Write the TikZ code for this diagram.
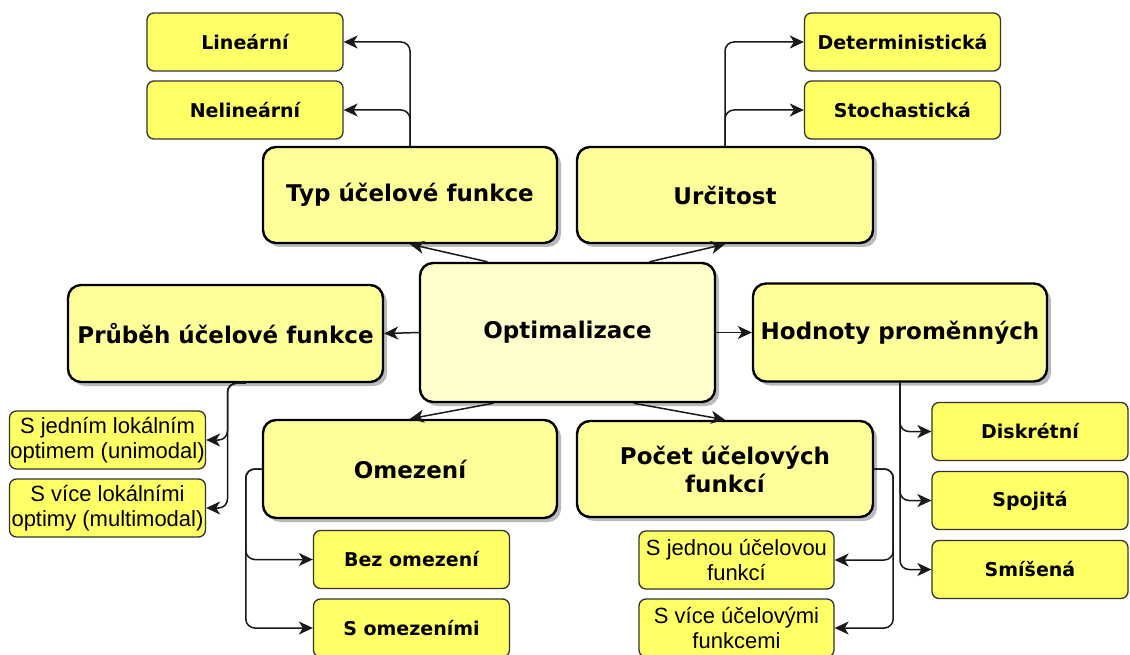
\documentclass[tikz,border=0pt]{standalone}
\usepackage{fontspec}
\setmainfont{DejaVu Sans}
\newfontfamily\notefont{Liberation Sans}
\usepackage{tikz}
\usetikzlibrary{arrows.meta,shadows}
\definecolor{boxyellow}{HTML}{FFFF99}
\definecolor{leafyellow}{HTML}{FFFF66}
\definecolor{rootyellow}{HTML}{FFFFCC}

\begin{document}
\begin{tikzpicture}[x=1pt,y=-1pt,
	main/.style={draw=black, line width=2.4pt, rounded corners=13pt, fill=boxyellow, inner sep=0pt, align=center, font=\bfseries\fontsize{23}{28}\selectfont, drop shadow={shadow xshift=4pt, shadow yshift=-4pt, fill=black!45, opacity=0.6}},
	leaf/.style={draw=black!80, line width=1.3pt, rounded corners=7pt, fill=leafyellow, inner sep=0pt, minimum width=196pt, minimum height=58pt, align=center, font=\bfseries\fontsize{19}{22}\selectfont},
	note/.style={leaf, font=\notefont\fontsize{22}{25}\selectfont},
	conn/.style={-{Stealth[length=14pt,width=13pt,inset=4pt,sharp]}, black!90, line width=1.5pt},
	bent/.style={conn, rounded corners=9pt}]
					
					\clip (0,0) rectangle (1130,655);
					
					\node[main, fill=rootyellow, minimum width=295pt, minimum height=139pt] (opt) at (567.5,332.5) {Optimalizace};
					\node[main, minimum width=294pt, minimum height=96pt] (typ) at (410,195) {Typ účelové funkce};
					\node[main, minimum width=296pt, minimum height=96pt] (urc) at (725,195) {Určitost};
					\node[main, minimum width=315pt, minimum height=97pt] (prub) at (225.5,333.5) {Průběh účelové funkce};
					\node[main, minimum width=294pt, minimum height=98pt] (hod) at (900,332.5) {Hodnoty proměnných};
					\node[main, minimum width=294pt, minimum height=98pt] (omez) at (410,469) {Omezení};
					\node[main, minimum width=296pt, minimum height=96pt] (pocet) at (725,469) {Počet účelových\\funkcí};
					
					\node[leaf] (lin) at (245,42) {Lineární};
					\node[leaf] (nelin) at (245,110) {Nelineární};
					\node[leaf] (det) at (902.5,42) {Deterministická};
					\node[leaf] (stoch) at (902.5,110) {Stochastická};
					\node[leaf] (disk) at (1030,431.5) {Diskrétní};
					\node[leaf] (spoj) at (1030,500.5) {Spojitá};
					\node[leaf] (smis) at (1030,569.5) {Smíšená};
					\node[note] (jedn) at (107.5,440) {S jedním lokálním\\optimem (unimodal)};
					\node[note] (vice) at (107.5,508) {S více lokálními\\optimy (multimodal)};
					\node[leaf] (bez) at (411.5,559.5) {Bez omezení};
					\node[leaf] (somez) at (411.5,628) {S omezeními};
					\node[note, minimum width=195pt] (jednou) at (736.5,560) {S jednou účelovou\\funkcí};
					\node[note, minimum width=195pt] (vicef) at (736.5,628) {S více účelovými\\funkcemi};
					
					\draw[conn] (opt.west) -- (prub.east);
					\draw[conn] (opt.east) -- (hod.west);
					\draw[conn] ([xshift=-80pt]opt.north) -- (typ.south);
					\draw[conn] ([xshift=82pt]opt.north) -- (urc.south);
					\draw[conn] ([xshift=-74pt]opt.south) -- (omez.north);
					\draw[conn] ([xshift=66pt]opt.south) -- (pocet.north);
					
					\draw[bent] (typ.north) |- (lin.east);
					\draw[bent] (typ.north) |- (nelin.east);
					\draw[bent] (urc.north) |- (det.west);
					\draw[bent] (urc.north) |- (stoch.west);
					\draw[bent] ([xshift=20pt]prub.south) -- ([xshift=2pt]prub.south) |- (jedn.east);
					\draw[bent] ([xshift=20pt]prub.south) -- ([xshift=2pt]prub.south) |- (vice.east);
					\draw[bent] (hod.south) |- (disk.west);
					\draw[bent] (hod.south) |- (spoj.west);
					\draw[bent] (hod.south) |- (smis.west);
					\draw[bent] (omez.west) -- ++(-16,0) |- (bez.west);
					\draw[bent] (omez.west) -- ++(-16,0) |- (somez.west);
					\draw[bent] (pocet.east) -- ++(19,0) |- (jednou.east);
					\draw[bent] (pocet.east) -- ++(19,0) |- (vicef.east);
					
				\end{tikzpicture}
\end{document}
